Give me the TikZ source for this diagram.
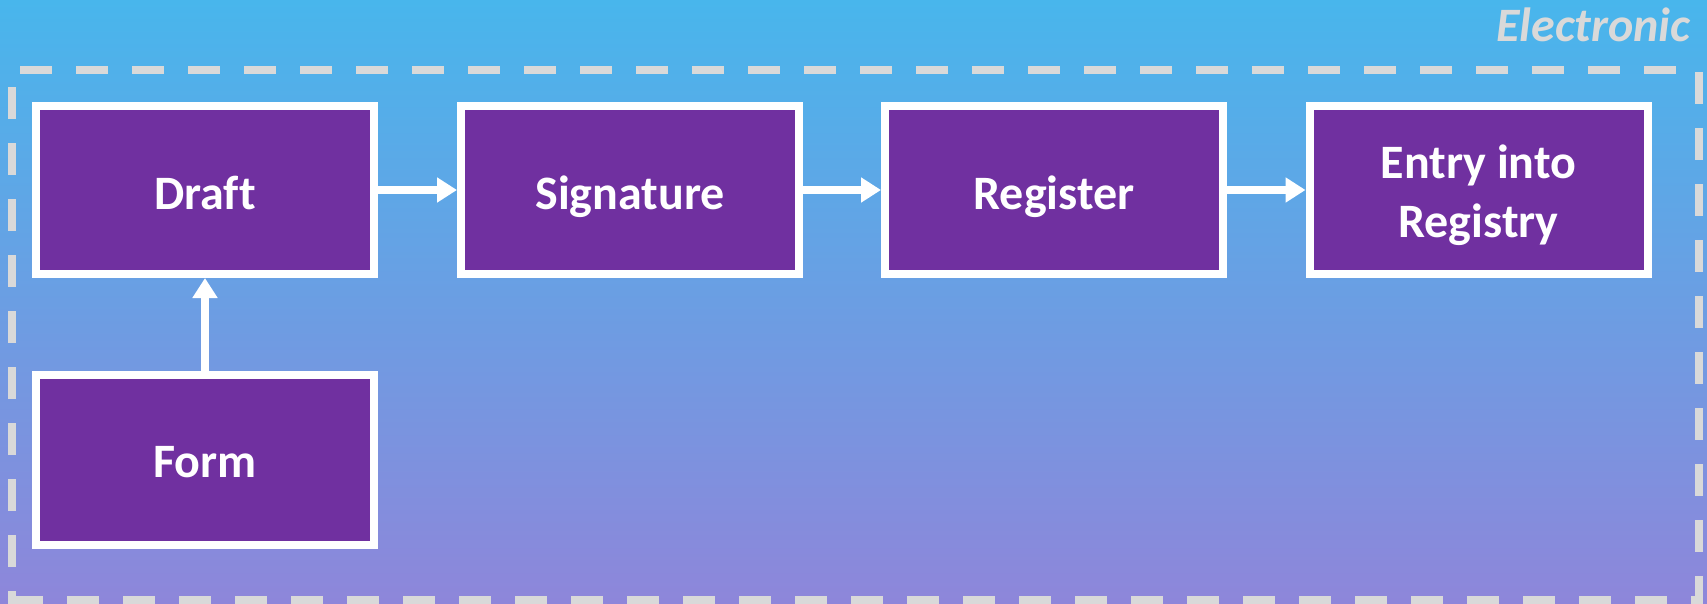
\documentclass[tikz,border=0pt]{standalone}
\usepackage{fontspec}
\setmainfont{Carlito}[Ligatures=NoCommon]
\usetikzlibrary{arrows.meta}
\definecolor{boxpurple}{HTML}{7030A0}
\definecolor{bgtop}{RGB}{72,182,236}
\definecolor{bgbot}{RGB}{142,134,218}
\definecolor{dashgray}{HTML}{D9D9D9}
\begin{document}
\begin{tikzpicture}[x=1pt,y=-1pt,
  stepbox/.style={draw=white, fill=boxpurple, line width=8pt, minimum width=338pt,
    minimum height=168pt, inner sep=0pt, text=white, text height=38pt, text depth=0pt,
    font=\fontsize{48}{59}\selectfont\bfseries, align=center},
  flow/.style={draw=white, line width=8pt, -{Triangle[length=20pt,width=24pt]}},
  frame/.style={draw=dashgray, line width=8pt, dash pattern=on 32pt off 24pt}]
\useasboundingbox (0,0) rectangle (1707,604);
\shade[top color=bgtop, bottom color=bgbot] (0,0) rectangle (1707,604);
\draw[frame, dash phase=48pt] (12,70) -- (1699,70);
\draw[frame, dash phase=54pt] (1699,70) -- (1699,600) -- (12,600);
\draw[frame, dash phase=19pt] (12,604) -- (12,70);
\node[anchor=base east, text=dashgray, font=\fontsize{48}{58}\selectfont\bfseries\itshape] (lbl) at (1694,42) {Electronic};
\node[stepbox] (draft) at (205,190) {Draft};
\node[stepbox] (sig) at (630,190) {Signature};
\node[stepbox] (reg) at (1054,190) {Register};
\node[stepbox, text height=95pt] (entry) at (1478.5,190) {Entry into\\Registry};
\node[stepbox, minimum height=170pt, text height=34pt] (form) at (205,460) {Form};
\draw[flow] (draft.east) -- (sig.west);
\draw[flow] (sig.east) -- (reg.west);
\draw[flow] (reg.east) -- (entry.west);
\draw[flow] (form.north) -- (draft.south);
\end{tikzpicture}
\end{document}
